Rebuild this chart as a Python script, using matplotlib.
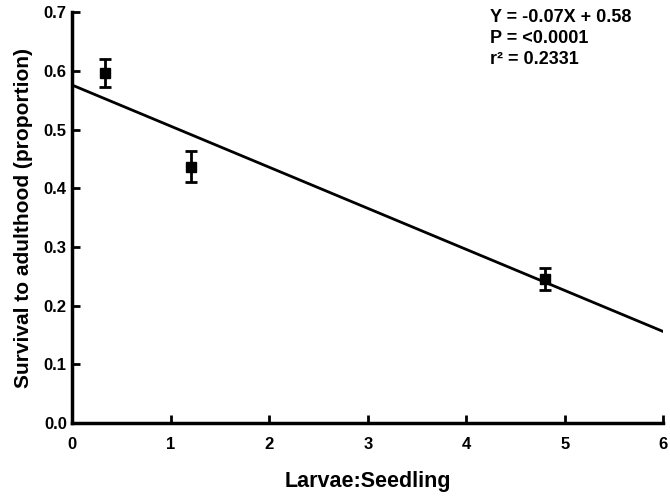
import matplotlib
matplotlib.use("Agg")
import matplotlib.pyplot as plt
import numpy as np

plt.rcParams['font.family'] = ['Liberation Sans', 'DejaVu Sans']
plt.rcParams['font.weight'] = 'bold'

x_vals = [0.33, 1.2, 4.8]
y_vals = [0.597, 0.437, 0.246]
y_err = [0.024, 0.026, 0.019]
slope = -0.07
intercept = 0.576
x_ticks = [0, 1, 2, 3, 4, 5, 6]
y_ticks = [0.0, 0.1, 0.2, 0.3, 0.4, 0.5, 0.6, 0.7]

fig = plt.figure(figsize=(6.7, 4.96), dpi=100)
ax = fig.add_axes([0.108, 0.147, 0.882, 0.828])

xl = np.array([0, 6])
ax.plot(xl, intercept + slope * xl, color='black', lw=2, zorder=2)
ax.errorbar(x_vals, y_vals, yerr=y_err, fmt='s', color='black', ms=7,
            elinewidth=2, capsize=4.5, capthick=2, zorder=3)

ax.set_xlim(0, 6)
ax.set_ylim(0, 0.7)
ax.set_xticks(x_ticks)
ax.set_xticklabels([str(t) for t in x_ticks])
ax.set_yticks(y_ticks)
ax.set_yticklabels([f"{t:.1f}" for t in y_ticks])
for s in ['top', 'right']:
    ax.spines[s].set_visible(False)
for s in ['left', 'bottom']:
    ax.spines[s].set_linewidth(2.5)
ax.tick_params(direction='in', length=6, width=2, labelsize=12)
ax.tick_params(axis='x', pad=10)
ax.tick_params(axis='y', pad=4)
for lab in ax.get_xticklabels() + ax.get_yticklabels():
    lab.set_fontweight('bold')

ax.set_xlabel('Larvae:Seedling', fontsize=15.5, fontweight='bold', labelpad=14)
ax.set_ylabel('Survival to adulthood (proportion)', fontsize=15, fontweight='bold', labelpad=8)

ax.text(0.731, 0.982, 'Y = -0.07X + 0.58\nP = <0.0001\nr² = 0.2331',
        transform=fig.transFigure, ha='left', va='top', fontsize=13,
        fontweight='bold', linespacing=1.3)

fig.savefig('out.png', dpi=100)
